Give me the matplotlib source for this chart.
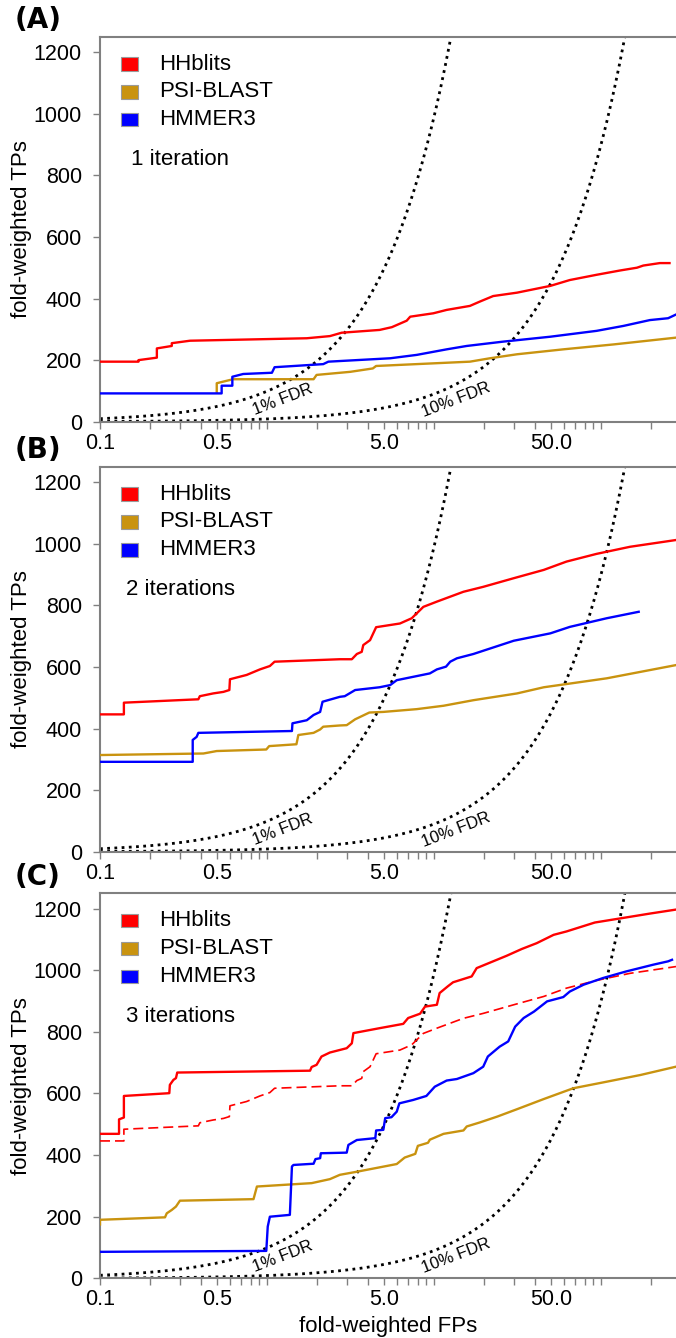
import numpy as np
import matplotlib
matplotlib.use("Agg")
import matplotlib.pyplot as plt
from matplotlib.patches import Rectangle
from matplotlib.ticker import FixedLocator, NullLocator

plt.rcParams['font.family'] = ['Liberation Sans', 'DejaVu Sans']

# colours of the three tools
colors = {'HHblits': '#ff0000', 'PSI-BLAST': '#c9930f', 'HMMER3': '#0000ff'}
tools = ['HHblits', 'PSI-BLAST', 'HMMER3']

# FDR guide levels
fdr_levels = [0.01, 0.10]
fdr_labels = ['1% FDR', '10% FDR']
fdr_label_x = [1.25, 13.5]

# ---- panel A: 1 iteration ----
hh1_x = [0.1, 0.17, 0.17, 0.219, 0.219, 0.269, 0.269, 0.346, 1.73, 2.38, 2.8, 4.72, 5.59, 6.86, 7.2,
         9.9, 11.9, 16.4, 18.8, 22.6, 31.4, 49.7, 65.0, 94, 130, 164, 179, 225, 257]
hh1_y = [195, 195, 200, 208, 238, 246, 255, 263, 271, 278, 289, 298, 307, 328, 341,
         352, 363, 376, 390, 408, 419, 441, 460, 477, 491, 500, 507, 515, 515]
psi1_x = [0.5, 0.5, 0.574, 0.627, 1.9, 1.98, 3.15, 4.3, 4.5, 16.4, 21.6, 31.4, 59.4, 119, 281]
psi1_y = [94, 125, 133, 138, 138, 152, 162, 173, 181, 195, 206, 219, 235, 251, 273]
hm1_x = [0.1, 0.535, 0.535, 0.62, 0.62, 0.72, 1.07, 1.11, 2.17, 2.33, 5.46, 7.88, 11.9, 15.7,
         25.9, 49.7, 94, 136, 196, 252, 281]
hm1_y = [92, 92, 117, 117, 146, 155, 159, 177, 187, 195, 206, 217, 235, 246,
         260, 276, 295, 311, 330, 336, 348]

# ---- panel B: 2 iterations ----
hh2_x = [0.1, 0.139, 0.139, 0.388, 0.396, 0.476, 0.548, 0.595, 0.6, 0.755, 0.907, 1.04, 1.11, 2.73,
         3.22, 3.45, 3.69, 3.77, 4.14, 4.5, 6.25, 7.35, 8.63, 10.4, 15.0, 19.7, 30.0, 45.4,
         62.1, 94, 149, 281]
hh2_y = [446, 446, 484, 495, 505, 514, 519, 525, 560, 574, 592, 603, 617, 625,
         625, 642, 649, 671, 687, 729, 741, 758, 795, 812, 844, 860, 888, 915,
         942, 967, 990, 1012]
psi2_x = [0.1, 0.416, 0.5, 0.99, 1.03, 1.5, 1.54, 1.9, 2.08, 2.17, 2.73, 3.0, 3.37, 4.1, 4.97,
          7.88, 11.4, 17.2, 31.4, 45.4, 108, 281]
psi2_y = [314, 319, 327, 332, 343, 349, 379, 386, 397, 406, 410, 411, 430, 452, 454,
          463, 474, 492, 514, 534, 563, 606]
hm2_x = [0.1, 0.359, 0.359, 0.379, 0.388, 1.41, 1.42, 1.73, 1.9, 2.08, 2.15, 2.73, 2.92, 3.37,
         4.72, 5.46, 5.98, 9.44, 10.4, 11.8, 12.5, 13.7, 17.2, 30.0, 49.7, 65.0, 108, 168]
hm2_y = [292, 292, 363, 373, 386, 392, 417, 427, 444, 454, 487, 503, 505, 525,
         534, 541, 557, 579, 592, 601, 617, 628, 642, 685, 709, 730, 758, 779]

# ---- panel C: 3 iterations ----
hh3_x = [0.1, 0.13, 0.13, 0.139, 0.139, 0.26, 0.262, 0.275, 0.285, 0.29, 1.81, 1.85, 1.98, 2.12,
         2.38, 3.0, 3.22, 3.29, 4.72, 6.54, 7.0, 8.25, 8.83, 10.4, 10.8, 12.1, 13.0, 16.8,
         18.0, 27.2, 33.5, 41.2, 52, 62.1, 91.8, 136, 196, 281]
hh3_y = [469, 469, 516, 522, 592, 601, 628, 644, 650, 668, 674, 686, 693, 720,
         733, 747, 763, 796, 812, 826, 845, 859, 882, 888, 926, 948, 961, 980,
         1007, 1047, 1069, 1088, 1115, 1126, 1155, 1170, 1184, 1197]
psi3_x = [0.1, 0.1, 0.245, 0.251, 0.269, 0.285, 0.301, 0.83, 0.87, 1.85, 2.38, 2.73, 3.45, 5.98,
          6.67, 7.72, 8.0, 9.2, 9.44, 11.4, 15.0, 15.7, 18.8, 23.9, 31.4, 45.4, 68.2,
          103, 172, 281]
psi3_y = [175, 190, 198, 211, 222, 233, 252, 257, 298, 309, 322, 336, 346, 371,
          392, 404, 430, 440, 450, 469, 480, 493, 506, 525, 549, 582, 617,
          636, 660, 687]
hm3_x = [0.1, 0.99, 1.01, 1.04, 1.37, 1.41, 1.44, 1.9, 1.95, 2.08, 2.1, 3.0, 3.07, 3.45, 4.45,
         4.5, 4.97, 5.1, 5.56, 5.98, 6.2, 7.5, 9.0, 10.1, 11.9, 13.7, 17.2, 19.7, 21.0,
         24.7, 27.8, 30.6, 34.4, 39.7, 47.5, 59.4, 65.0, 78.5, 103, 141, 205, 252, 266]
hm3_y = [86, 89, 168, 200, 206, 363, 368, 372, 387, 390, 406, 408, 433, 449, 455,
         480, 482, 520, 523, 541, 568, 579, 592, 622, 642, 647, 666, 687, 720,
         752, 769, 817, 845, 866, 899, 913, 931, 953, 975, 996, 1018, 1029, 1034]

panels = [
    ('(A)', '1 iteration', {'HHblits': (hh1_x, hh1_y), 'PSI-BLAST': (psi1_x, psi1_y),
                            'HMMER3': (hm1_x, hm1_y)}, None),
    ('(B)', '2 iterations', {'HHblits': (hh2_x, hh2_y), 'PSI-BLAST': (psi2_x, psi2_y),
                             'HMMER3': (hm2_x, hm2_y)}, None),
    ('(C)', '3 iterations', {'HHblits': (hh3_x, hh3_y), 'PSI-BLAST': (psi3_x, psi3_y),
                             'HMMER3': (hm3_x, hm3_y)}, (hh2_x, hh2_y)),
]

xmin, xmax = 0.1, 281
major = [0.1, 0.5, 5.0, 50.0]
ticks = sorted(set([m * 10.0 ** e for e in range(-1, 3) for m in range(1, 10)] + [200.0]))
ticks = [t for t in ticks if xmin - 1e-9 <= t <= xmax]

fig = plt.figure(figsize=(6.76, 13.38), dpi=100)
bottoms = [0.6848, 0.3634, 0.0446]
left = 100 / 676
height = 0.2878
grey = '#808080'

for (tag, iter_text, series, dashed), bot in zip(panels, bottoms):
    ax = fig.add_axes([left, bot, 1 - left, height])
    ax.set_xscale('log')
    ax.set_xlim(xmin, xmax)
    ax.set_ylim(0, 1250)

    # FDR guide curves: TP = FP * (1 - f) / f
    xs = np.logspace(np.log10(xmin), np.log10(xmax), 400)
    for f, lab, lx in zip(fdr_levels, fdr_labels, fdr_label_x):
        ax.plot(xs, xs * (1 - f) / f, color='black', lw=2.0, ls=(0, (1, 1.6)), zorder=2)
        ax.text(lx, 72, lab, rotation=21, fontsize=12, ha='center', va='center', zorder=3)

    if dashed is not None:
        ax.plot(dashed[0], dashed[1], color=colors['HHblits'], lw=1.2, ls=(0, (6, 3)), zorder=3)
    for t in tools:
        sx, sy = series[t]
        ax.plot(sx, sy, color=colors[t], lw=1.7, zorder=4)

    # legend boxes
    for i, t in enumerate(tools):
        yc = (0.929 - 0.0725 * i)
        ax.add_patch(Rectangle((0.036, yc - 0.0173), 0.0307, 0.0346, transform=ax.transAxes,
                               facecolor=colors[t], edgecolor='#9a9a9a', lw=0.8, zorder=5))
        ax.text(0.102, yc, t, transform=ax.transAxes, fontsize=16, va='center', ha='left')
    ax.text(0.139, 0.68, iter_text, transform=ax.transAxes, fontsize=16, va='center', ha='center')

    ax.xaxis.set_major_locator(FixedLocator(ticks))
    ax.xaxis.set_minor_locator(NullLocator())
    ax.set_xticklabels([('%.1f' % t) if any(abs(t - m) < 1e-9 for m in major) else '' for t in ticks])
    ax.set_yticks(range(0, 1201, 200))
    ax.tick_params(axis='both', direction='out', length=5, width=1, color=grey,
                   labelsize=15.5, labelcolor='black')
    ax.tick_params(axis='y', pad=8)
    ax.tick_params(axis='x', pad=3)
    for s in ['left', 'top', 'bottom']:
        ax.spines[s].set_color(grey)
        ax.spines[s].set_linewidth(1.5)
    ax.spines['right'].set_visible(False)
    ax.set_ylabel('fold-weighted TPs', fontsize=16)
    ax.yaxis.set_label_coords(-0.118, 0.5)
    fig.text(0.022, bot + height + 0.0125, tag, fontsize=20, fontweight='bold',
             family='DejaVu Sans', va='center', ha='left')
    last = ax

last.set_xlabel('fold-weighted FPs', fontsize=16, labelpad=4)

fig.savefig('out.png', dpi=100)
